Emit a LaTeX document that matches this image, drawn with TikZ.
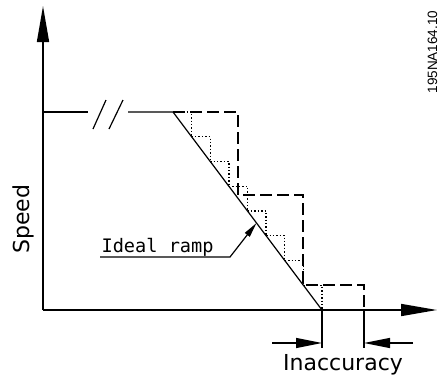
\documentclass[tikz,border=0pt]{standalone}
\usepackage{fontspec}
\usetikzlibrary{arrows.meta}
\newfontfamily\labelfont{DejaVu Sans}
\newfontfamily\leaderfont{DejaVu Sans Mono}
\newfontfamily\codefont{Liberation Sans}
\tikzset{
  every picture/.style={line width=1.2pt},
  axis/.style={line width=1.6pt, -{Triangle[length=36pt, width=12pt]}},
  coarse/.style={dash pattern=on 12pt off 5pt},
  fine/.style={line width=1.4pt, dotted},
  dim/.style={-{Triangle[length=26pt, width=10pt]}},
  leader/.style={-{Triangle[length=15pt, width=6pt]}},
  note/.style={font=\labelfont\fontsize{22}{24}\selectfont, inner sep=0pt},
}

\begin{document}
\begin{tikzpicture}[x=1pt, y=-1pt]
  \useasboundingbox (0,0) rectangle (439,376);
  \coordinate (O) at (43,310);
  \coordinate (ytip) at (43,6);
  \coordinate (xtip) at (437,310);
  \coordinate (level) at (43,112);
  \coordinate (start) at (173,112);
  \coordinate (stop) at (322,310);
  \coordinate (late) at (364,310);
  % dotted fine steps along the ramp
  \foreach \k in {0,...,7}
    \draw[fine] ({173+18.625*\k},{112+24.75*\k}) -| ({173+18.625*(\k+1)},{112+24.75*(\k+1)});
  % dashed coarse steps
  \draw[coarse] (start) -| (238,195) -| (303,285) -| (late);
  % speed level with a break, then the ideal ramp
  \draw (level) -- (88,112);
  \draw (128,112) -- (start) -- (stop);
  \draw (93,129) -- (106,100) (109,129) -- (123,100);
  \draw[axis] (O) -- (ytip);
  \draw[axis] (O) -- (xtip);
  % inaccuracy
  \coordinate (stopdown) at (322,348);
  \coordinate (latedown) at (364,348);
  \coordinate (dimL) at (272,343);
  \coordinate (dimR) at (413,343);
  \draw (stop) -- (stopdown);
  \draw (late) -- (latedown);
  \draw[dim] (dimL) -- (stopdown |- dimL);
  \draw[dim] (dimR) -- (latedown |- dimR);
  \node[note, anchor=base] (inacc) at (343,370) {Inaccuracy};
  \node[note, rotate=90] (speed) at (23,219) {Speed};
  \node[font=\leaderfont\fontsize{18.6}{20}\selectfont, anchor=base west, inner sep=0pt] (ideal) at (101,252) {Ideal ramp};
  \coordinate (under) at (100,257);
  \coordinate (bend) at (230,257);
  \coordinate (hit) at (256.5,223);
  \draw[leader] (under) -- (bend) -- (hit);
  \node[font=\codefont\fontsize{13.5}{15}\selectfont, rotate=90, inner sep=0pt] (code) at (432.5,52) {195NA164.10};
\end{tikzpicture}
\end{document}
